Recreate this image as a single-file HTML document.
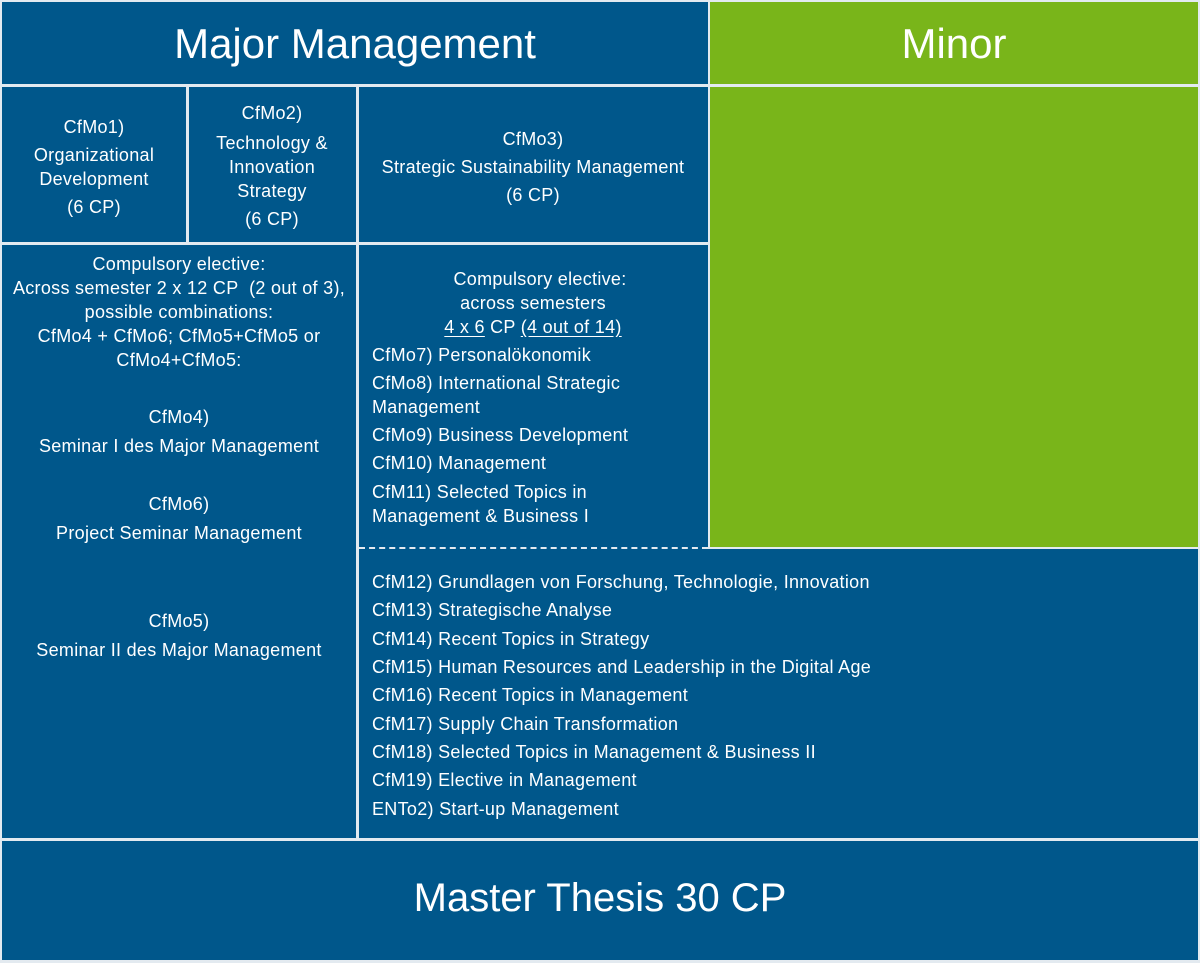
<!DOCTYPE html>
<html><head><meta charset="utf-8"><style>
body{margin:0;width:1200px;height:963px;background:#e3eaf0;position:relative;overflow:hidden;font-family:"Liberation Sans",sans-serif;color:#fff}
.b{position:absolute;background:#00578b}
.g{position:absolute;background:#79b51a}
.t{position:absolute;font-size:18px;white-space:nowrap;letter-spacing:0.3px}
.c{text-align:center;transform:translateX(-50%)}
.h{position:absolute;font-size:42px;white-space:nowrap;transform:translateX(-50%)}
u{text-decoration:underline;text-underline-offset:3px}
</style></head><body>
<div class="b" style="left:2px;top:2px;width:706px;height:82px"></div>
<div class="g" style="left:710px;top:2px;width:488px;height:82px"></div>
<div class="b" style="left:2px;top:87px;width:184px;height:155px"></div>
<div class="b" style="left:189px;top:87px;width:167px;height:155px"></div>
<div class="b" style="left:359px;top:87px;width:349px;height:155px"></div>
<div class="g" style="left:710px;top:87px;width:488px;height:460px"></div>
<div class="b" style="left:2px;top:245px;width:354px;height:593px"></div>
<div class="b" style="left:359px;top:245px;width:349px;height:304px"></div>
<div class="b" style="left:359px;top:549px;width:839px;height:289px"></div>
<div style="position:absolute;left:359px;top:547px;width:349px;border-top:2px dashed #e3eaf0"></div>
<div class="b" style="left:2px;top:841px;width:1196px;height:119px"></div>

<div class="h" style="left:355px;top:20px">Major Management</div>
<div class="h" style="left:954px;top:20px">Minor</div>
<div class="h" style="left:600px;top:876px;font-size:40px">Master Thesis 30 CP</div>

<div class="t c" style="left:94px;top:117px">CfMo1)</div>
<div class="t c" style="left:94px;top:145px">Organizational</div>
<div class="t c" style="left:94px;top:169px">Development</div>
<div class="t c" style="left:94px;top:197px">(6 CP)</div>

<div class="t c" style="left:272px;top:103px">CfMo2)</div>
<div class="t c" style="left:272px;top:133px">Technology &amp;</div>
<div class="t c" style="left:272px;top:157px">Innovation</div>
<div class="t c" style="left:272px;top:181px">Strategy</div>
<div class="t c" style="left:272px;top:209px">(6 CP)</div>

<div class="t c" style="left:533px;top:129px">CfMo3)</div>
<div class="t c" style="left:533px;top:157px">Strategic Sustainability Management</div>
<div class="t c" style="left:533px;top:185px">(6 CP)</div>

<div class="t c" style="left:179px;top:254px">Compulsory elective:</div>
<div class="t c" style="left:179px;top:278px">Across semester 2 x 12 CP&nbsp; (2 out of 3),</div>
<div class="t c" style="left:179px;top:302px">possible combinations:</div>
<div class="t c" style="left:179px;top:326px">CfMo4 + CfMo6; CfMo5+CfMo5 or</div>
<div class="t c" style="left:179px;top:350px">CfMo4+CfMo5:</div>
<div class="t c" style="left:179px;top:407px">CfMo4)</div>
<div class="t c" style="left:179px;top:436px">Seminar I des Major Management</div>
<div class="t c" style="left:179px;top:494px">CfMo6)</div>
<div class="t c" style="left:179px;top:523px">Project Seminar Management</div>
<div class="t c" style="left:179px;top:611px">CfMo5)</div>
<div class="t c" style="left:179px;top:640px">Seminar II des Major Management</div>

<div class="t c" style="left:540px;top:269px">Compulsory elective:</div>
<div class="t c" style="left:533px;top:293px">across semesters</div>
<div class="t c" style="left:533px;top:317px"><u>4 x 6</u> CP <u>(4 out of 14)</u></div>
<div class="t" style="left:372px;top:345px">CfMo7) Personalökonomik</div>
<div class="t" style="left:372px;top:373px">CfMo8) International Strategic</div>
<div class="t" style="left:372px;top:397px">Management</div>
<div class="t" style="left:372px;top:425px">CfMo9) Business Development</div>
<div class="t" style="left:372px;top:453px">CfM10) Management</div>
<div class="t" style="left:372px;top:482px">CfM11) Selected Topics in</div>
<div class="t" style="left:372px;top:506px">Management &amp; Business I</div>

<div class="t" style="left:372px;top:572px">CfM12) Grundlagen von Forschung, Technologie, Innovation</div>
<div class="t" style="left:372px;top:600px">CfM13) Strategische Analyse</div>
<div class="t" style="left:372px;top:629px">CfM14) Recent Topics in Strategy</div>
<div class="t" style="left:372px;top:657px">CfM15) Human Resources and Leadership in the Digital Age</div>
<div class="t" style="left:372px;top:685px">CfM16) Recent Topics in Management</div>
<div class="t" style="left:372px;top:714px">CfM17) Supply Chain Transformation</div>
<div class="t" style="left:372px;top:742px">CfM18) Selected Topics in Management &amp; Business II</div>
<div class="t" style="left:372px;top:770px">CfM19) Elective in Management</div>
<div class="t" style="left:372px;top:799px">ENTo2) Start-up Management</div>
</body></html>
